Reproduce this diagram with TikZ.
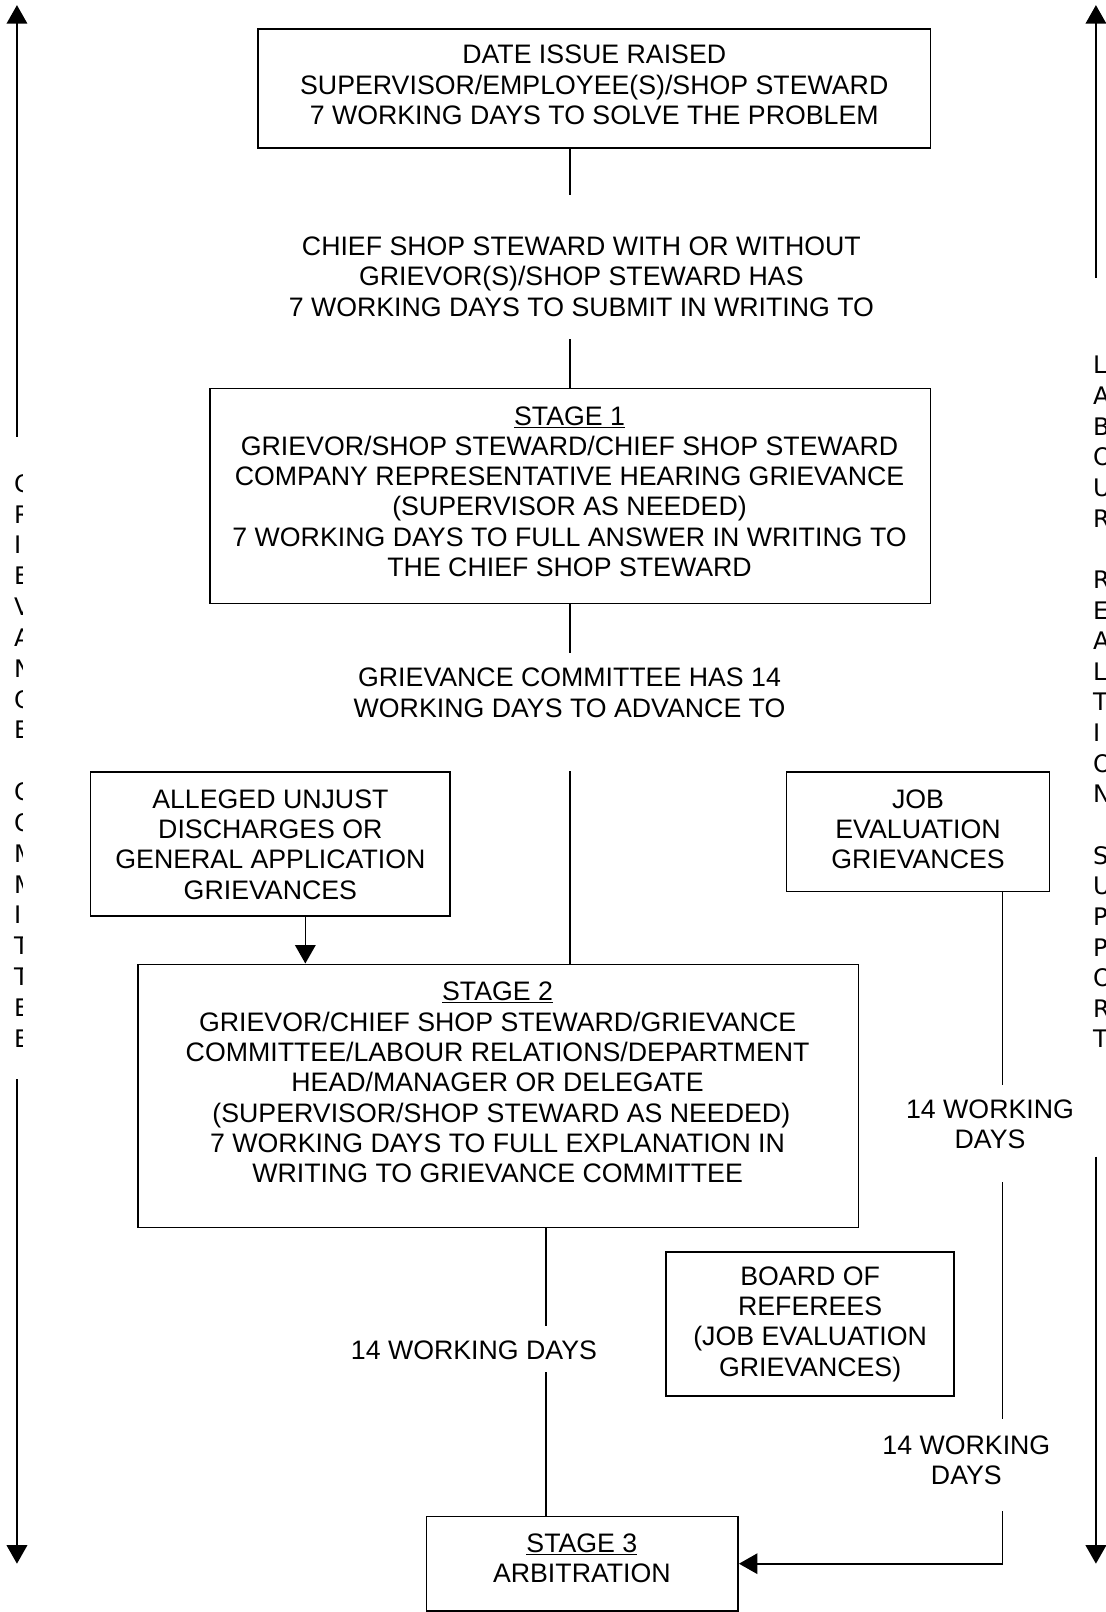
\documentclass[tikz,border=0pt]{standalone}
\usepackage{fontspec}
\setmainfont{Liberation Sans}
\newfontfamily\vfont{DejaVu Sans}
\usetikzlibrary{arrows.meta}
\begin{document}
\begin{tikzpicture}[x=1pt,y=-1pt,
  box/.style={draw,line width=1.6pt,inner sep=0pt},
  txt/.style={align=center,inner sep=0pt,font=\fontsize{26}{29.5}\selectfont},
  vtxt/.style={align=left,inner sep=0pt,anchor=west},
  ln/.style={line width=1.6pt},
  arr/.style={line width=1.6pt,-{Triangle[width=20pt,length=18pt]}}]
\useasboundingbox (0,0) rectangle (1075,1568);
% boxes
\node[box,minimum width=654pt,minimum height=116pt] (top) at (578,86) {};
\node[box,minimum width=701pt,minimum height=209pt] (s1) at (554.5,482.5) {};
\node[box,minimum width=350pt,minimum height=140pt] (al) at (263,821) {};
\node[box,minimum width=256pt,minimum height=116pt] (job) at (893,809) {};
\node[box,minimum width=701pt,minimum height=256pt] (s2) at (484.5,1066) {};
\node[box,minimum width=280pt,minimum height=140pt] (bd) at (788,1288) {};
\node[box,minimum width=303pt,minimum height=92pt] (s3) at (566.5,1521) {};
% texts
\node[txt] (toptxt) at (578,82.7) {DATE ISSUE RAISED\\SUPERVISOR/EMPLOYEE(S)/SHOP STEWARD\\7 WORKING DAYS TO SOLVE THE PROBLEM};
\node[txt] (chief) at (565.5,269) {CHIEF SHOP STEWARD WITH OR WITHOUT\\GRIEVOR(S)/SHOP STEWARD HAS\\7 WORKING DAYS TO SUBMIT IN WRITING TO};
\node[txt] (s1txt) at (554,478.2) {\underline{STAGE 1}\\GRIEVOR/SHOP STEWARD/CHIEF SHOP STEWARD\\COMPANY REPRESENTATIVE HEARING GRIEVANCE\\(SUPERVISOR AS NEEDED)\\7 WORKING DAYS TO FULL ANSWER IN WRITING TO\\THE CHIEF SHOP STEWARD};
\node[txt] (gc) at (554,674) {GRIEVANCE COMMITTEE HAS 14\\WORKING DAYS TO ADVANCE TO};
\node[txt] (altxt) at (263,821.5) {ALLEGED UNJUST\\DISCHARGES OR\\GENERAL APPLICATION\\GRIEVANCES};
\node[txt] (jobtxt) at (893,806.7) {JOB\\EVALUATION\\GRIEVANCES};
\node[txt] (s2txt) at (484,1053) {\underline{STAGE 2}\\GRIEVOR/CHIEF SHOP STEWARD/GRIEVANCE\\COMMITTEE/LABOUR RELATIONS/DEPARTMENT\\HEAD/MANAGER OR DELEGATE\\\ (SUPERVISOR/SHOP STEWARD AS NEEDED)\\7 WORKING DAYS TO FULL EXPLANATION IN\\WRITING TO GRIEVANCE COMMITTEE};
\node[txt] (wd1) at (461,1313) {14 WORKING DAYS};
\node[txt] (wd2) at (963,1093.5) {14 WORKING\\DAYS};
\node[txt] (wd3) at (940,1420.5) {14 WORKING\\DAYS};
\node[txt] (bdtxt) at (788,1288) {BOARD OF\\REFEREES\\(JOB EVALUATION\\GRIEVANCES)};
\node[txt] (s3txt) at (566,1516) {\underline{STAGE 3}\\ARBITRATION};
% free ends
\coordinate (c1) at (554.5,190);
\coordinate (c2) at (554.5,330);
\coordinate (c3) at (554.5,635);
\coordinate (c4) at (554.5,750);
\coordinate (a1) at (297,0);
\coordinate (c5) at (531,1290);
\coordinate (c6) at (531,1335);
\coordinate (c7) at (975,1055);
\coordinate (c8) at (975,1150);
\coordinate (c9) at (975,1380);
\coordinate (c10) at (975,1470);
\coordinate (L0) at (16.5,5);
\coordinate (L1) at (16.5,425);
\coordinate (L2) at (16.5,1050);
\coordinate (L3) at (16.5,1521);
\coordinate (R0) at (1066,5);
\coordinate (R1) at (1066,270);
\coordinate (R2) at (1066,1125);
\coordinate (R3) at (1066,1521);
% connectors
\draw[ln] (top.south -| s1.north) -- (c1);
\draw[ln] (c2) -- (s1.north);
\draw[ln] (s1.south) -- (c3);
\draw[ln] (c4) -- (c4 |- s2.north);
\draw[arr] (a1 |- al.south) -- (a1 |- s2.north);
\draw[ln] (c5 |- s2.south) -- (c5);
\draw[ln] (c6) -- (c6 |- s3.north);
\draw[ln] (c7 |- job.south) -- (c7);
\draw[ln] (c8) -- (c9);
\draw[arr] (c10) -- (c10 |- s3.east) -- (s3.east);
\draw[arr] (L1) -- (L0);
\draw[arr] (L2) -- (L3);
\draw[arr] (R1) -- (R0);
\draw[arr] (R2) -- (R3);
% side vertical texts
\begin{scope}
\clip (0,0) rectangle (21.5,1568);
\node[vtxt,font=\vfont\fontsize{23.5}{30}\selectfont] (lt) at (13.6,740) {G\\R\\I\\E\\V\\A\\N\\C\\E\\\mbox{}\\C\\O\\M\\M\\I\\T\\T\\E\\E};
\end{scope}
\begin{scope}
\clip (1040,0) rectangle (1075,1568);
\node[vtxt,font=\vfont\fontsize{23.5}{29.8}\selectfont] (rt) at (1063,683) {L\\A\\B\\O\\U\\R\\\mbox{}\\R\\E\\A\\L\\T\\I\\O\\N\\\mbox{}\\S\\U\\P\\P\\O\\R\\T};
\end{scope}
\end{tikzpicture}
\end{document}
